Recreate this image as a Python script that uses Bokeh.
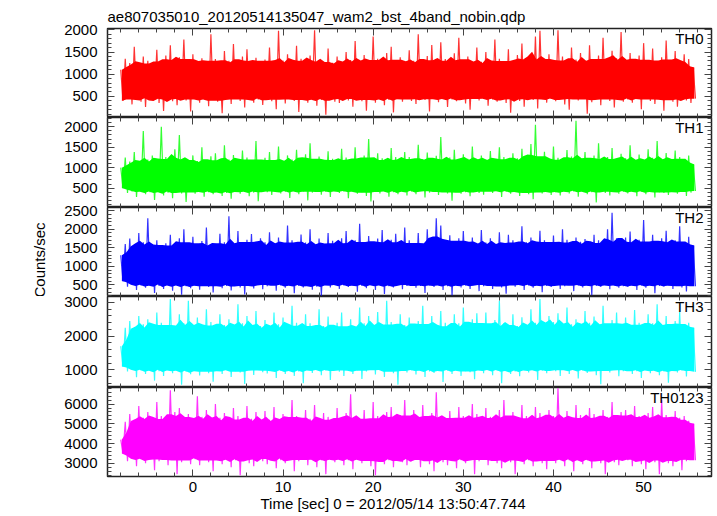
import numpy as np
from bokeh.plotting import figure
from bokeh.layouts import column
from bokeh.models import Range1d, Label, FixedTicker, LinearAxis, Title
from bokeh.embed import file_html
from bokeh.resources import INLINE

# ---------------- data ----------------
title_text = "ae807035010_20120514135047_wam2_bst_4band_nobin.qdp"
x_label_text = "Time [sec] 0 = 2012/05/14 13:50:47.744"
y_label_text = "Counts/sec"
panel_names = ["TH0", "TH1", "TH2", "TH3", "TH0123"]

time_start = -8.0
time_step = 0.5
x_limits = (-9.47, 57.53)
x_major_ticks = [0, 10, 20, 30, 40, 50]
x_minor_ticks = list(range(-8, 58, 2))

# upper excursions (hi) and lower excursions (lo) of each light curve, one pair per half second
th0_hi = [1100, 1350, 1250, 1620, 1200, 1400, 1300, 1180, 1550, 1280, 1420, 1650, 1230, 1380, 1780, 1320,
          1450, 1220, 1360, 1280, 1900, 1340, 1190, 1520, 1300, 1680, 1250, 1400, 1560, 1210, 1370, 1290,
          1330, 1600, 1240, 1980, 1310, 1450, 1200, 1640, 1350, 1270, 1420, 1990, 1300, 1230, 1580, 1260,
          1400, 1180, 1500, 1320, 1750, 1260, 1430, 1300, 1850, 1350, 1220, 1480, 1620, 1290, 1380, 1210,
          1540, 1300, 1900, 1250, 1410, 1660, 1230, 1720, 1340, 1280, 1470, 1820, 1300, 1400, 1190, 1600,
          1280, 1500, 1230, 1780, 1350, 1260, 1560, 1200, 1430, 1690, 1300, 1380, 1850, 1980, 1270, 1450,
          1220, 1990, 1400, 1250, 1600, 1330, 1480, 1210, 1650, 1290, 1420, 1820, 1240, 1530, 1360, 1950,
          1300, 1480, 1210, 1420, 1700, 1260, 1580, 1200, 1380, 1760, 1300, 1520, 1230, 1450, 1340, 1150]
th0_lo = [400, 450, 320, 480, 380, 260, 430, 500, 350, 170, 460, 390, 300, 470, 410, 160,
          440, 360, 490, 280, 420, 380, 120, 470, 330, 450, 400, 250, 480, 360, 430, 310,
          470, 390, 210, 450, 340, 480, 400, 150, 430, 360, 500, 290, 420, 90, 460, 380,
          350, 480, 410, 270, 460, 390, 180, 440, 360, 490, 300, 420, 140, 470, 380, 450,
          400, 330, 480, 420, 160, 450, 370, 500, 260, 430, 390, 470, 340, 200, 460, 410,
          480, 290, 430, 380, 460, 350, 130, 490, 400, 270, 450, 420, 230, 470, 360, 440,
          390, 460, 320, 200, 480, 410, 440, 110, 370, 490, 300, 450, 400, 250, 470, 380,
          430, 360, 480, 210, 450, 400, 330, 490, 180, 440, 380, 270, 470, 410, 350, 450]

th1_hi = [1000, 1250, 1150, 1380, 1100, 1900, 1200, 1300, 1120, 2000, 1260, 1180, 1450, 1800, 1230, 1090,
          1300, 1160, 1500, 1120, 1280, 1350, 1080, 1550, 1200, 1310, 1140, 1420, 1250, 1170, 1650, 1110,
          1240, 1380, 1150, 1520, 1090, 1300, 1200, 1440, 1130, 1330, 1600, 1180, 1270, 1100, 1400, 1220,
          1170, 1460, 1250, 1120, 1500, 1210, 1300, 1700, 1100, 1350, 1230, 1160, 1480, 1260, 1120, 1380,
          1260, 1180, 1560, 1210, 1370, 1100, 1290, 1750, 1170, 1250, 1440, 1120, 1330, 1220, 1520, 1180,
          1300, 1200, 1410, 1110, 1500, 1260, 1170, 1350, 1230, 1460, 1120, 1580, 2050, 1210, 1390, 1160,
          1520, 1240, 1160, 1430, 1270, 2150, 1200, 1380, 1100, 1300, 1600, 1180, 1260, 1480, 1130, 1340,
          1230, 1550, 1170, 1320, 1120, 1450, 1240, 1650, 1180, 1360, 1110, 1420, 1260, 1190, 1300, 1080]
th1_lo = [500, 380, 420, 280, 440, 350, 400, 210, 430, 320, 390, 250, 450, 370, 160, 410,
          360, 430, 290, 400, 350, 440, 310, 380, 240, 420, 360, 450, 300, 390, 180, 430,
          400, 330, 450, 370, 410, 260, 440, 350, 420, 200, 390, 440, 340, 410, 280, 430,
          380, 420, 250, 450, 360, 400, 310, 170, 430, 370, 440, 290, 400, 350, 450, 320,
          420, 350, 440, 270, 390, 450, 330, 410, 370, 190, 430, 360, 400, 300, 440, 380,
          340, 430, 380, 450, 280, 410, 360, 440, 310, 400, 350, 230, 430, 370, 410, 330,
          400, 320, 440, 370, 420, 290, 450, 350, 400, 150, 430, 380, 320, 440, 360, 410,
          370, 440, 300, 410, 350, 430, 270, 400, 380, 330, 450, 360, 410, 310, 390, 430]

th2_hi = [1300, 1600, 1750, 1500, 1900, 1650, 2300, 1550, 1700, 1480, 1620, 1850, 1520, 1760, 2000, 1580,
          1800, 1540, 1680, 2050, 1600, 1470, 1880, 1650, 2350, 1560, 1950, 1610, 1720, 1870, 1530, 1760,
          1650, 1920, 1520, 1780, 1600, 2100, 1700, 1500, 1860, 1640, 2000, 1570, 1750, 1480, 1900, 1690,
          1580, 1760, 1950, 1520, 1700, 2150, 1630, 1820, 1540, 1750, 1980, 1600, 1720, 1880, 1500, 2050,
          1700, 1580, 1900, 1530, 2000, 1680, 2300, 2100, 1550, 1840, 1640, 1760, 1950, 1600, 1780, 1520,
          1980, 1640, 1760, 1580, 1920, 1510, 1850, 1700, 1600, 2080, 1650, 1780, 1540, 1960, 1700, 1630,
          1830, 1590, 2000, 1720, 1550, 1780, 1660, 1740, 1580, 1850, 1700, 1530, 2000, 2450, 1760, 1600,
          1780, 1940, 1600, 1720, 2250, 1640, 1850, 1540, 1760, 1960, 1620, 1700, 2080, 1650, 1800, 1560]
th2_lo = [600, 450, 520, 360, 480, 420, 550, 280, 470, 390, 530, 340, 490, 230, 460, 410,
          520, 370, 480, 440, 290, 540, 410, 470, 350, 510, 430, 240, 490, 400, 540, 380,
          460, 520, 340, 480, 420, 550, 270, 470, 430, 510, 370, 450, 200, 500, 430, 540,
          390, 480, 440, 520, 310, 470, 410, 540, 360, 500, 250, 460, 430, 520, 380, 470,
          510, 420, 470, 280, 490, 440, 540, 360, 460, 210, 510, 430, 480, 390, 520, 330,
          460, 520, 390, 470, 430, 260, 500, 450, 520, 360, 480, 420, 540, 300, 470, 440,
          500, 390, 460, 520, 330, 480, 430, 510, 220, 470, 440, 520, 380, 490, 420, 460,
          440, 510, 360, 480, 420, 540, 270, 470, 450, 510, 390, 480, 430, 320, 500, 460]

th3_hi = [1700, 2250, 2450, 2200, 2600, 2350, 2500, 2150, 2700, 2400, 2280, 3100, 2200, 2650, 2380, 3050,
          2300, 2550, 2180, 2800, 2420, 2250, 2650, 2330, 2500, 2150, 2950, 2380, 2600, 2220, 2750, 2300,
          2480, 2200, 2700, 2350, 2550, 2180, 2900, 2400, 2250, 2650, 2380, 2150, 2800, 2300, 2580, 2230,
          2400, 2700, 2220, 2500, 2150, 2850, 2380, 2600, 2250, 2720, 2300, 3050, 2420, 2200, 2650, 2330,
          2550, 2250, 2450, 2900, 2300, 2600, 2180, 2750, 2400, 2230, 2650, 2380, 2850, 2200, 2500, 2680,
          2320, 2700, 2200, 2480, 3050, 2380, 2250, 2650, 2300, 2560, 2180, 2800, 2400, 3100, 2280, 2600,
          2420, 2680, 2230, 2850, 2350, 2500, 2180, 2750, 2400, 2580, 2250, 2900, 2320, 2480, 2700, 2200,
          2550, 2300, 2780, 2400, 2220, 2650, 2380, 2950, 2300, 2600, 2180, 2450, 2720, 2330, 2400, 2250]
th3_lo = [1100, 950, 1020, 780, 980, 880, 1050, 680, 960, 820, 1030, 900, 990, 560, 940, 870,
          1010, 830, 970, 900, 650, 1000, 880, 1040, 790, 960, 920, 580, 1010, 850, 1030, 930,
          890, 1000, 760, 970, 880, 1050, 820, 950, 600, 1000, 910, 1030, 840, 980, 700, 1010,
          940, 820, 1030, 880, 990, 730, 950, 1010, 860, 1040, 790, 970, 900, 560, 1000, 920,
          990, 860, 1030, 790, 950, 910, 1050, 640, 980, 880, 1010, 820, 960, 930, 720, 1020,
          900, 1010, 840, 980, 600, 1030, 880, 950, 810, 1000, 920, 1050, 700, 970, 900, 1010,
          960, 820, 1010, 880, 1040, 740, 980, 910, 1010, 840, 570, 990, 920, 1030, 810, 960,
          1010, 880, 960, 760, 1030, 900, 990, 840, 950, 620, 1010, 920, 980, 800, 1030, 940]

th0123_hi = [4200, 5100, 5500, 5200, 5900, 5300, 5600, 5000, 6100, 5400, 5150, 6700, 5600, 5800, 5250, 5500,
             5200, 6400, 5350, 5700, 5050, 6000, 5300, 5550, 5100, 5800, 5400, 5000, 5900, 5250, 5600, 5100,
             5650, 5200, 5850, 5050, 5500, 5300, 6200, 5400, 5100, 5700, 5250, 5950, 5000, 5550, 5350, 5100,
             5800, 5250, 5550, 6500, 5350, 5050, 5700, 5200, 6100, 5400, 5000, 5600, 5850, 5300, 5450, 6200,
             5400, 5700, 5100, 5950, 5300, 5550, 6600, 5350, 5000, 5650, 5250, 5850, 5400, 5100, 6000, 5500,
             5250, 5800, 5350, 5050, 5700, 6200, 5300, 5600, 5100, 5950, 5400, 5200, 5850, 5550, 5050, 5700,
             5400, 6800, 5250, 5650, 5100, 5950, 5450, 5200, 5800, 5500, 5050, 5700, 5350, 6100, 5250, 5600,
             5700, 5300, 5900, 5400, 5100, 5550, 5850, 5250, 6200, 5450, 5100, 5650, 5300, 5400, 5150, 5000]
th0123_lo = [3500, 3100, 3250, 2850, 3200, 3000, 3300, 2650, 3100, 3250, 2900, 3200, 2450, 3050, 3300, 2950,
             3200, 2900, 3300, 3050, 2600, 3200, 2950, 3300, 2800, 3150, 2400, 3250, 3000, 2850, 3300, 3100,
             2950, 3300, 2750, 3150, 3000, 3300, 2600, 3100, 3200, 2900, 3300, 2800, 3150, 2450, 3200, 3050,
             3250, 2900, 3150, 2700, 3300, 3000, 3200, 2850, 2400, 3250, 2950, 3150, 2800, 3300, 3050, 2900,
             3100, 3300, 2800, 3200, 2950, 2600, 3250, 3050, 2900, 3300, 2750, 3150, 3000, 3250, 2450, 3100,
             3200, 2900, 3300, 3000, 2750, 3200, 3050, 2450, 3250, 2950, 3150, 2850, 3300, 3000, 2700, 3200,
             3000, 3250, 2850, 3150, 2600, 3300, 2950, 3150, 2750, 3200, 3000, 2450, 3250, 3050, 2900, 3200,
             3150, 2850, 3300, 2950, 2700, 3200, 3050, 2450, 3250, 3000, 2850, 3200, 2650, 3100, 3300, 3150]

y_limits = [(25, 2030), (25, 2228), (184, 2589), (475, 3178), (2330, 6840)]
y_major_ticks = [[500, 1000, 1500, 2000],
                 [500, 1000, 1500, 2000],
                 [500, 1000, 1500, 2000, 2500],
                 [1000, 2000, 3000],
                 [3000, 4000, 5000, 6000]]
y_minor_ticks = [list(range(100, 2100, 100)),
                 list(range(100, 2300, 100)),
                 list(range(200, 2600, 100)),
                 list(range(600, 3200, 200)),
                 list(range(2400, 6900, 200))]

series_hi = [th0_hi, th1_hi, th2_hi, th3_hi, th0123_hi]
series_lo = [th0_lo, th1_lo, th2_lo, th3_lo, th0123_lo]
colors = ["#ff0000", "#00ff00", "#0000ff", "#00ffff", "#ff00ff"]

# ---------------- layout / style ----------------
FONT = "Liberation Sans"
FS = "15px"
frame_heights = [89, 90, 89, 91, 89]
FRAME_W = 604
LEFT = 107
RIGHT = 6
OVERLAP = 8
TICK_COL = "#444444"

xr = Range1d(*x_limits)


def style_axis(ax, show_labels):
    ax.axis_line_color = None
    ax.major_tick_in = 7
    ax.major_tick_out = 0
    ax.minor_tick_in = 4
    ax.minor_tick_out = 0
    ax.major_tick_line_color = TICK_COL
    ax.minor_tick_line_color = TICK_COL
    if show_labels:
        ax.major_label_text_font = FONT
        ax.major_label_text_font_size = FS
        ax.major_label_text_color = "black"
    else:
        ax.major_label_text_font_size = "0px"
        ax.major_label_text_color = None
        ax.major_label_standoff = 0


def rolling_quantile(a, q, half=2):
    padded = np.concatenate([np.repeat(a[:1], half), a, np.repeat(a[-1:], half)])
    win = np.vstack([padded[i:i + len(a)] for i in range(2 * half + 1)])
    return np.quantile(win, q, axis=0)


figs = []
for k in range(5):
    hi = np.array(series_hi[k], dtype=float)
    lo = np.array(series_lo[k], dtype=float)
    n = len(hi)
    t = time_start + time_step * np.arange(n)
    xs = np.empty(2 * n)
    ys = np.empty(2 * n)
    xs[0::2] = t
    xs[1::2] = t + time_step / 2
    ys[0::2] = hi
    ys[1::2] = lo

    # densely over-drawn zone between the usual peaks and troughs nearby
    core_lo = rolling_quantile(lo, 0.65)
    core_hi = rolling_quantile(hi, 0.35)

    yr = Range1d(*y_limits[k])
    first = k == 0
    last = k == 4
    p = figure(x_range=xr, y_range=yr, frame_width=FRAME_W, frame_height=frame_heights[k],
               output_backend="svg", toolbar_location=None,
               x_axis_type=None, y_axis_type=None,
               min_border_left=LEFT, min_border_right=RIGHT,
               min_border_top=28 if first else OVERLAP,
               min_border_bottom=40 if last else 0,
               background_fill_color="white", border_fill_color=None,
               outline_line_color="#222222", outline_line_width=1.5)
    if not first:
        p.margin = (-OVERLAP, 0, 0, 0)

    p.varea(x=t + time_step / 4, y1=core_lo, y2=core_hi, fill_color=colors[k], fill_alpha=1.0)
    p.line(xs, ys, line_color=colors[k], line_width=1.2, line_alpha=0.8)

    yt = FixedTicker(ticks=y_major_ticks[k], minor_ticks=y_minor_ticks[k])
    xt = FixedTicker(ticks=x_major_ticks, minor_ticks=x_minor_ticks)

    left = LinearAxis(ticker=yt)
    style_axis(left, True)
    left.major_label_standoff = 10
    p.add_layout(left, "left")
    right = LinearAxis(ticker=yt)
    style_axis(right, False)
    p.add_layout(right, "right")
    top = LinearAxis(ticker=xt)
    style_axis(top, False)
    p.add_layout(top, "above")
    bottom = LinearAxis(ticker=xt)
    style_axis(bottom, last)
    if last:
        bottom.major_label_standoff = 5
    p.add_layout(bottom, "below")

    p.add_layout(Label(x=xr.end, y=yr.end, x_offset=-8, y_offset=-1, text=panel_names[k],
                       text_align="right", text_baseline="top", text_font=FONT,
                       text_font_size=FS, text_color="black"))

    if first:
        p.title.text = title_text
        p.title.align = "left"
        p.title.text_font = FONT
        p.title.text_font_size = FS
        p.title.text_font_style = "normal"
        p.title.text_color = "black"
        p.title.vertical_align = "bottom"
        p.title.standoff = 8
    if k == 2:
        p.add_layout(Title(text=y_label_text, align="left", offset=-1, vertical_align="bottom",
                           standoff=28, text_font=FONT, text_font_size=FS,
                           text_font_style="normal", text_color="black"), "left")
    if last:
        p.add_layout(Title(text=x_label_text, align="left", offset=153, vertical_align="top",
                           standoff=0, text_font=FONT, text_font_size=FS,
                           text_font_style="normal", text_color="black"), "below")
    figs.append(p)

layout = column(*figs, spacing=0)
open("out.html", "w").write(file_html(layout, INLINE))
